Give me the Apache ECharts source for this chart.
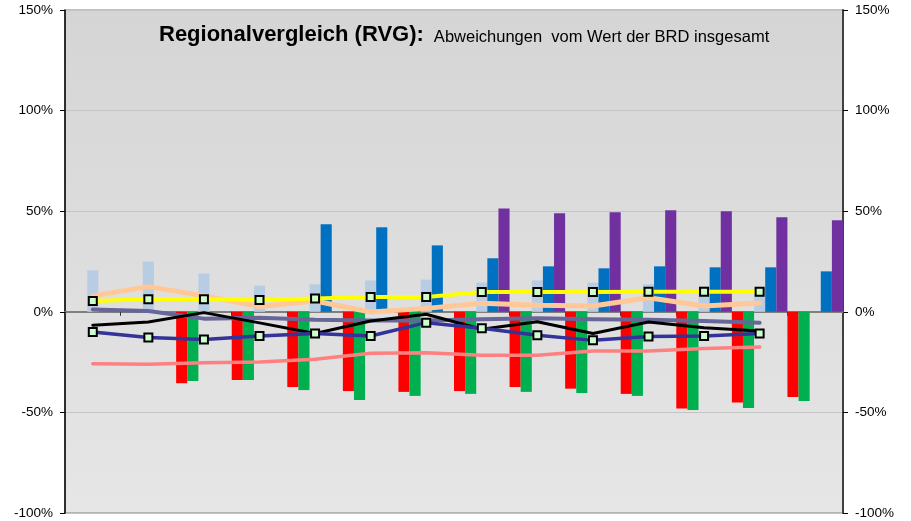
<!DOCTYPE html>
<html>
<head>
<meta charset="utf-8">
<script src="https://cdn.jsdelivr.net/npm/echarts@6/dist/echarts.min.js"></script>
<style>
  html, body { margin: 0; padding: 0; background: #fff; }
  #chart { width: 911px; height: 521px; }
</style>
</head>
<body>
<div id="chart"></div>
<script>
// Regionen (ohne Beschriftung in der Vorlage)
var regions = ['R1', 'R2', 'R3', 'R4', 'R5', 'R6', 'R7', 'R8', 'R9', 'R10', 'R11', 'R12', 'R13', 'R14']
var yTicks = [-100, -50, 0, 50, 100, 150]

// Säulen (Abweichung in %)
var barRed = ['-', '-', -35.5, -33.9, -37.4, -39.4, -39.8, -39.4, -37.4, -38.2, -40.8, -48.1, -45.1, -42.3]
var barGreen = ['-', '-', -34.4, -33.9, -38.9, -43.8, -41.8, -40.8, -39.8, -40.4, -41.8, -48.8, -47.8, -44.3]
var barLightBlue = [20.6, 25, 19, 13, 13.7, 15.6, 16, 14.5, 15.6, 14.5, 13.7, 12.6, 12, '-']
var barBlue = ['-', '-', '-', '-', 43.5, 42, 33, 26.6, 22.6, 21.6, 22.6, 22.1, 22.1, 20.1]
var barPurple = ['-', '-', '-', '-', '-', '-', '-', 51.4, 49, 49.5, 50.5, 50, 47, 45.5]

// Linien (Abweichung in %)
var lineYellow = [5.4, 6.2, 6.2, 5.9, 6.6, 7.4, 7.4, 9.8, 9.8, 9.8, 10, 10, 10, '-']
var lineNavy = [-10, -12.8, -13.8, -12, -10.8, -12, -5.4, -8.2, -11.7, -14.2, -12.3, -12, -10.8, '-']
var lineBlack = [-6.7, -5.1, -0.4, -5.5, -10.8, -4.6, -1.2, -8.7, -4.9, -10.8, -5.1, -7.9, -9.5, '-']
var lineOrange = [7.9, 12.5, 7.9, 2.6, 5.4, -0.1, 1.7, 4.2, 3.2, 2.9, 7, 2.9, 4.4, '-']
var lineGrey = [1.2, 0.4, -3.4, -2.9, -4, -4.3, -4.3, -3.7, -3.2, -3.7, -4, -4.6, -5.4, '-']
var linePink = [-25.8, -26.1, -25.3, -24.9, -23.6, -20.6, -20.3, -21.6, -21.6, -19.5, -19.5, -18.3, -17.5, '-']

var chart = echarts.init(document.getElementById('chart'))

var font = 'Liberation Sans, Arial, sans-serif'

function yAxisCfg(pos) {
  return {
    type: 'value',
    position: pos,
    min: yTicks[0],
    max: yTicks[yTicks.length - 1],
    interval: 50,
    axisLine: { show: true, lineStyle: { color: pos === 'left' ? '#000' : '#404040', width: pos === 'left' ? 1.5 : 2 } },
    axisTick: { show: true, length: 5, lineStyle: { color: '#000' } },
    axisLabel: {
      formatter: '{value}%',
      color: '#000',
      fontFamily: font,
      fontSize: 13.5,
      margin: 12
    },
    splitLine: { show: pos === 'left', lineStyle: { color: '#c4c4c4', width: 1 } }
  }
}

function bar(name, data, color) {
  return {
    name: name,
    type: 'bar',
    data: data,
    barGap: '0%',
    barCategoryGap: '0%',
    itemStyle: { color: color },
    animation: false
  }
}

function line(name, data, color, width, markers) {
  return {
    name: name,
    type: 'line',
    data: data,
    symbol: markers ? 'rect' : 'none',
    symbolSize: 8,
    showSymbol: markers,
    lineStyle: { color: color, width: width, cap: 'round', join: 'round' },
    itemStyle: { color: '#ccffcc', borderColor: '#000', borderWidth: 2 },
    z: markers ? 4 : 3,
    animation: false
  }
}

chart.setOption({
  animation: false,
  title: {
    text: '{a|Regionalvergleich (RVG):}  {b|Abweichungen  vom Wert der BRD insgesamt}',
    left: 154,
    top: 15,
    textStyle: {
      rich: {
        a: { fontFamily: font, fontWeight: 'bold', fontSize: 22, color: '#000', verticalAlign: 'bottom', lineHeight: 26 },
        b: { fontFamily: font, fontWeight: 'normal', fontSize: 16.5, color: '#000', verticalAlign: 'bottom', lineHeight: 23 }
      }
    }
  },
  grid: {
    left: 65,
    right: 68,
    top: 10,
    bottom: 8,
    show: true,
    borderColor: '#808080',
    borderWidth: 1,
    backgroundColor: new echarts.graphic.LinearGradient(0, 0, 0, 1, [
      { offset: 0, color: '#d5d5d5' },
      { offset: 1, color: '#e6e6e6' }
    ])
  },
  xAxis: {
    type: 'category',
    data: regions,
    axisLine: { onZero: true, lineStyle: { color: '#7f7f7f', width: 2 } },
    axisTick: { show: true, interval: 0, length: 4, lineStyle: { color: '#333' } },
    axisLabel: { show: false },
    splitLine: { show: false }
  },
  yAxis: [yAxisCfg('left'), yAxisCfg('right')],
  series: [
    bar('rot', barRed, '#ff0000'),
    bar('grün', barGreen, '#00b050'),
    bar('hellblau', barLightBlue, '#b8cce4'),
    bar('blau', barBlue, '#0070c0'),
    bar('lila', barPurple, '#7030a0'),
    line('orange', lineOrange, '#ffc896', 5, false),
    line('grau', lineGrey, '#666699', 4, false),
    line('rosa', linePink, '#ff8080', 3.5, false),
    line('schwarz', lineBlack, '#000000', 3, false),
    line('dunkelblau', lineNavy, '#333399', 3.5, true),
    line('gelb', lineYellow, '#ffff00', 4, true)
  ]
})
</script>
</body>
</html>
